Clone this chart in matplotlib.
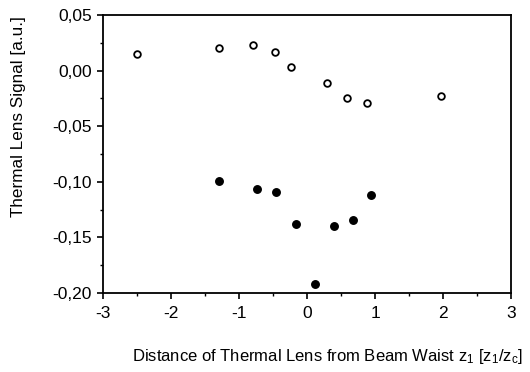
import matplotlib
matplotlib.use("Agg")
import matplotlib.pyplot as plt
from matplotlib.ticker import FixedLocator, MultipleLocator

plt.rcParams['font.family'] = ['Liberation Sans', 'DejaVu Sans']
plt.rcParams['mathtext.default'] = 'regular'

# open circles
open_x = [-2.50, -1.30, -0.79, -0.47, -0.24, 0.30, 0.59, 0.88, 1.97]
open_y = [0.015, 0.020, 0.023, 0.017, 0.003, -0.011, -0.025, -0.029, -0.023]
# filled circles
fill_x = [-1.29, -0.73, -0.46, -0.16, 0.12, 0.40, 0.67, 0.94]
fill_y = [-0.099, -0.1065, -0.109, -0.138, -0.192, -0.140, -0.134, -0.112]

x_ticks = [-3, -2, -1, 0, 1, 2, 3]
x_labels = ['-3', '-2', '-1', '0', '1', '2', '3']
y_ticks = [0.05, 0.0, -0.05, -0.10, -0.15, -0.20]
y_labels = ['0,05', '0,00', '-0,05', '-0,10', '-0,15', '-0,20']

fig = plt.figure(figsize=(5.30, 3.72), dpi=100)
ax = fig.add_axes([103/530, 1-293/372, (511-103)/530, (293-15)/372])

ax.plot(open_x, open_y, 'o', mfc='white', mec='black', ms=4.8, mew=1.3, ls='none')
ax.plot(fill_x, fill_y, 'o', mfc='black', mec='black', ms=5.4, ls='none')

ax.set_xlim(-3, 3)
ax.set_ylim(-0.20, 0.05)
ax.xaxis.set_major_locator(FixedLocator(x_ticks))
ax.set_xticklabels(x_labels)
ax.yaxis.set_major_locator(FixedLocator(y_ticks))
ax.set_yticklabels(y_labels)
ax.xaxis.set_minor_locator(MultipleLocator(0.5))
ax.yaxis.set_minor_locator(MultipleLocator(0.025))
ax.tick_params(which='major', direction='out', length=4, width=1.2, labelsize=12.5, color='black')
ax.tick_params(axis='y', which='major', pad=4)
ax.tick_params(axis='x', which='major', pad=5)
ax.tick_params(which='minor', direction='out', length=2.5, width=1.0)
for s in ax.spines.values():
    s.set_linewidth(1.3)

fig.text(327/530, 1-357/372, 'Distance of Thermal Lens from Beam Waist z$_1$ [z$_1$/z$_c$]',
         ha='center', va='center', fontsize=12.0)
fig.text(19/530, 1-117/372, 'Thermal Lens Signal [a.u.]', rotation=90,
         ha='center', va='center', fontsize=12.3)

fig.savefig('out.png', dpi=100)
